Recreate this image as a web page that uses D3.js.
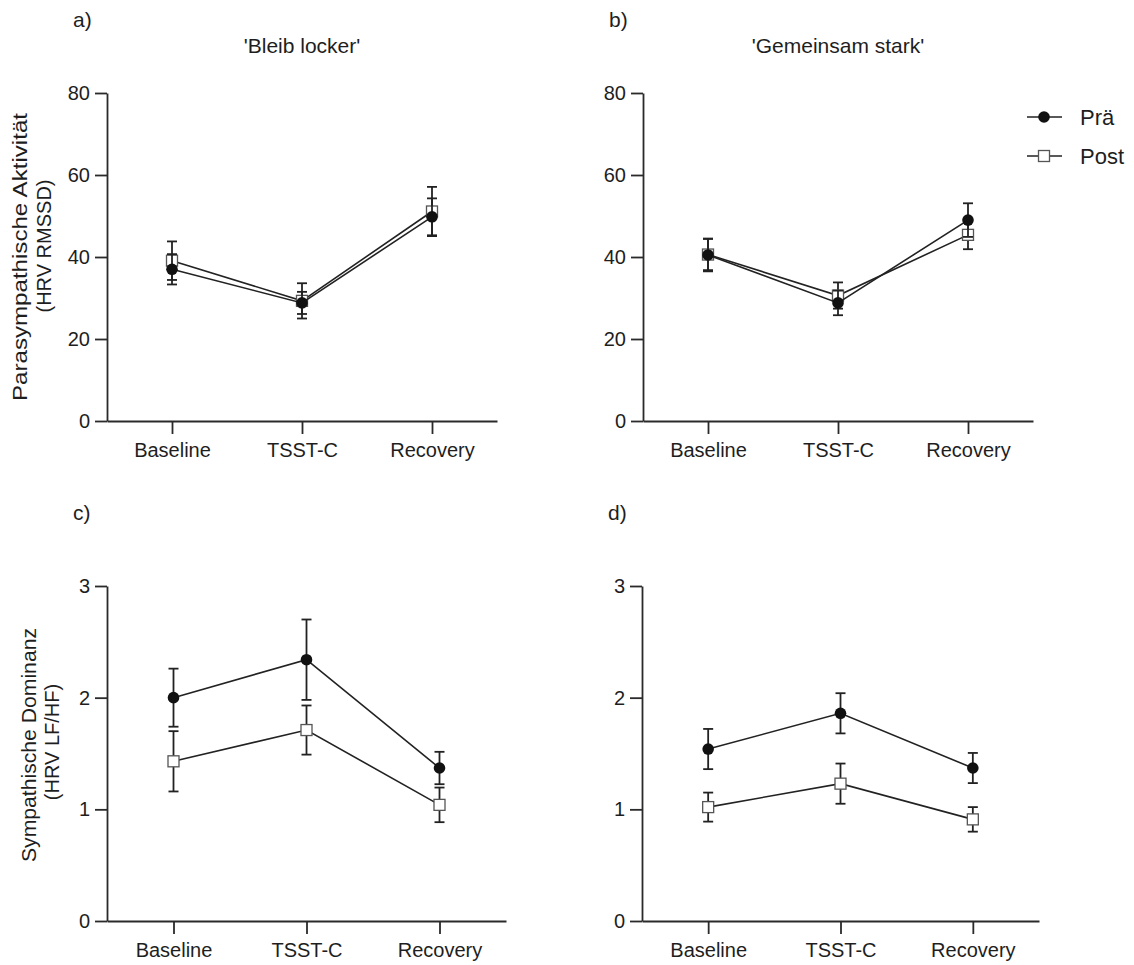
<!DOCTYPE html>
<html>
<head>
<meta charset="utf-8">
<script src="https://cdn.jsdelivr.net/npm/d3@7"></script>
<style>
  body { margin: 0; background: #fff; }
  svg { display: block; font-family: "Liberation Sans", Arial, sans-serif; }
</style>
</head>
<body>
<script>
const width = 1134;
const height = 965;

// Categories and ticks
const phases = ["Baseline", "TSST-C", "Recovery"];
const rmssdTicks = [0, 20, 40, 60, 80];
const lfhfTicks = [0, 1, 2, 3];
const seriesNames = ["Prä", "Post"];

// a) 'Bleib locker' – HRV RMSSD
const bleibRmssdPrae    = [37.0, 28.8, 49.8];
const bleibRmssdPraeErr = [3.7, 2.7, 4.5];
const bleibRmssdPost    = [39.1, 29.3, 51.1];
const bleibRmssdPostErr = [4.7, 4.3, 6.0];

// b) 'Gemeinsam stark' – HRV RMSSD
const gemRmssdPrae    = [40.5, 28.8, 49.0];
const gemRmssdPraeErr = [4.0, 3.0, 4.1];
const gemRmssdPost    = [40.6, 30.6, 45.4];
const gemRmssdPostErr = [3.8, 3.2, 3.5];

// c) 'Bleib locker' – HRV LF/HF
const bleibLfhfPrae    = [2.0, 2.34, 1.37];
const bleibLfhfPraeErr = [0.26, 0.36, 0.145];
const bleibLfhfPost    = [1.43, 1.71, 1.04];
const bleibLfhfPostErr = [0.27, 0.22, 0.155];

// d) 'Gemeinsam stark' – HRV LF/HF
const gemLfhfPrae    = [1.54, 1.86, 1.37];
const gemLfhfPraeErr = [0.18, 0.18, 0.135];
const gemLfhfPost    = [1.02, 1.23, 0.91];
const gemLfhfPostErr = [0.13, 0.18, 0.11];

const ink = "#1e1e1e";

const svg = d3.select("body")
  .append("svg")
  .attr("width", width)
  .attr("height", height)
  .attr("viewBox", [0, 0, width, height]);

// Panel layout
const panels = [
  { letter: "a)", title: "'Bleib locker'", x0: 107, x1: 497, yTop: 93, yBottom: 421,
    ticks: rmssdTicks, prae: bleibRmssdPrae, praeErr: bleibRmssdPraeErr, post: bleibRmssdPost, postErr: bleibRmssdPostErr },
  { letter: "b)", title: "'Gemeinsam stark'", x0: 643, x1: 1033, yTop: 93, yBottom: 421,
    ticks: rmssdTicks, prae: gemRmssdPrae, praeErr: gemRmssdPraeErr, post: gemRmssdPost, postErr: gemRmssdPostErr },
  { letter: "c)", title: null, x0: 107, x1: 506, yTop: 586, yBottom: 921,
    ticks: lfhfTicks, prae: bleibLfhfPrae, praeErr: bleibLfhfPraeErr, post: bleibLfhfPost, postErr: bleibLfhfPostErr },
  { letter: "d)", title: null, x0: 642, x1: 1039, yTop: 586, yBottom: 921,
    ticks: lfhfTicks, prae: gemLfhfPrae, praeErr: gemLfhfPraeErr, post: gemLfhfPost, postErr: gemLfhfPostErr }
];

function drawPanel(p) {
  const g = svg.append("g");
  const x = d3.scalePoint().domain(phases).range([p.x0, p.x1]).padding(0.5);
  const y = d3.scaleLinear().domain([0, d3.max(p.ticks)]).range([p.yBottom, p.yTop]);

  // Axes
  const xAxis = g.append("g")
    .attr("transform", `translate(0,${p.yBottom})`)
    .call(d3.axisBottom(x).tickSize(13).tickSizeOuter(0).tickPadding(9));
  const yAxis = g.append("g")
    .attr("transform", `translate(${p.x0},0)`)
    .call(d3.axisLeft(y).tickValues(p.ticks).tickFormat(d3.format("d"))
      .tickSize(12).tickSizeOuter(0).tickPadding(5));

  [xAxis, yAxis].forEach(a => {
    a.selectAll("path, line").attr("stroke", "#2a2a2a").attr("stroke-width", 1.8);
    a.selectAll("text").attr("fill", ink).style("font-size", "20px")
      .style("font-family", "'Liberation Sans', Arial, sans-serif");
  });

  // Panel letter and title
  g.append("text")
    .attr("x", p.x0 - 34)
    .attr("y", p.yTop - 66)
    .attr("fill", ink)
    .style("font-size", "21px")
    .text(p.letter);

  if (p.title) {
    g.append("text")
      .attr("x", x(phases[1]))
      .attr("y", p.yTop - 40)
      .attr("text-anchor", "middle")
      .attr("fill", ink)
      .style("font-size", "21px")
      .text(p.title);
  }

  const line = d3.line()
    .x((d, i) => x(phases[i]))
    .y(d => y(d));

  const series = [
    { name: "Post", values: p.post, err: p.postErr },
    { name: "Prä", values: p.prae, err: p.praeErr }
  ];

  series.forEach(s => {
    const pts = s.values.map((v, i) => ({ phase: phases[i], v, e: s.err[i] }));

    g.append("path")
      .datum(s.values)
      .attr("d", line)
      .attr("fill", "none")
      .attr("stroke", "#222")
      .attr("stroke-width", 1.6);

    // error bars
    const eb = g.append("g").attr("stroke", "#222").attr("stroke-width", 1.8);
    eb.selectAll(".stem")
      .data(pts)
      .join("line")
      .attr("x1", d => x(d.phase)).attr("x2", d => x(d.phase))
      .attr("y1", d => y(d.v - d.e)).attr("y2", d => y(d.v + d.e));
    eb.selectAll(".cap")
      .data(pts.flatMap(d => [d.v - d.e, d.v + d.e].map(c => ({ phase: d.phase, c }))))
      .join("line")
      .attr("x1", d => x(d.phase) - 5).attr("x2", d => x(d.phase) + 5)
      .attr("y1", d => y(d.c)).attr("y2", d => y(d.c));

    if (s.name === "Prä") {
      g.selectAll(null)
        .data(pts)
        .join("circle")
        .attr("cx", d => x(d.phase))
        .attr("cy", d => y(d.v))
        .attr("r", 5.8)
        .attr("fill", "#111");
    } else {
      g.selectAll(null)
        .data(pts)
        .join("rect")
        .attr("x", d => x(d.phase) - 5.5)
        .attr("y", d => y(d.v) - 5.5)
        .attr("width", 11)
        .attr("height", 11)
        .attr("fill", "#fff")
        .attr("stroke", "#555")
        .attr("stroke-width", 1.3);
    }
  });
}

panels.forEach(drawPanel);

// Y axis labels
function yLabel(lines, cy) {
  lines.forEach(l => {
    const t = svg.append("text")
      .attr("transform", `translate(${l.bx},${cy + l.dy}) rotate(-90)`)
      .attr("text-anchor", "middle")
      .attr("fill", ink)
      .style("font-size", "20px")
      .text(l.text);
    if (l.len) t.attr("textLength", l.len).attr("lengthAdjust", "spacingAndGlyphs");
  });
}
yLabel([
  { text: "Parasympathische Aktivität", bx: 27, dy: 0, len: 288 },
  { text: "(HRV RMSSD)", bx: 51, dy: -11 }
], 257);
yLabel([
  { text: "Sympathische Dominanz", bx: 36, dy: -8, len: 234 },
  { text: "(HRV LF/HF)", bx: 59, dy: -11 }
], 753);

// Legend
const legend = svg.append("g");
const ly = d3.scalePoint().domain(seriesNames).range([117, 156]);
seriesNames.forEach(name => {
  const yy = ly(name);
  legend.append("line")
    .attr("x1", 1027).attr("x2", 1062)
    .attr("y1", yy).attr("y2", yy)
    .attr("stroke", "#222").attr("stroke-width", 1.6);
  if (name === "Prä") {
    legend.append("circle").attr("cx", 1044).attr("cy", yy).attr("r", 5.8).attr("fill", "#111");
  } else {
    legend.append("rect").attr("x", 1038.5).attr("y", yy - 5.5).attr("width", 11).attr("height", 11)
      .attr("fill", "#fff").attr("stroke", "#555").attr("stroke-width", 1.3);
  }
  legend.append("text")
    .attr("x", 1080).attr("y", yy + 8)
    .attr("fill", ink)
    .style("font-size", "22px")
    .text(name);
});
</script>
</body>
</html>
